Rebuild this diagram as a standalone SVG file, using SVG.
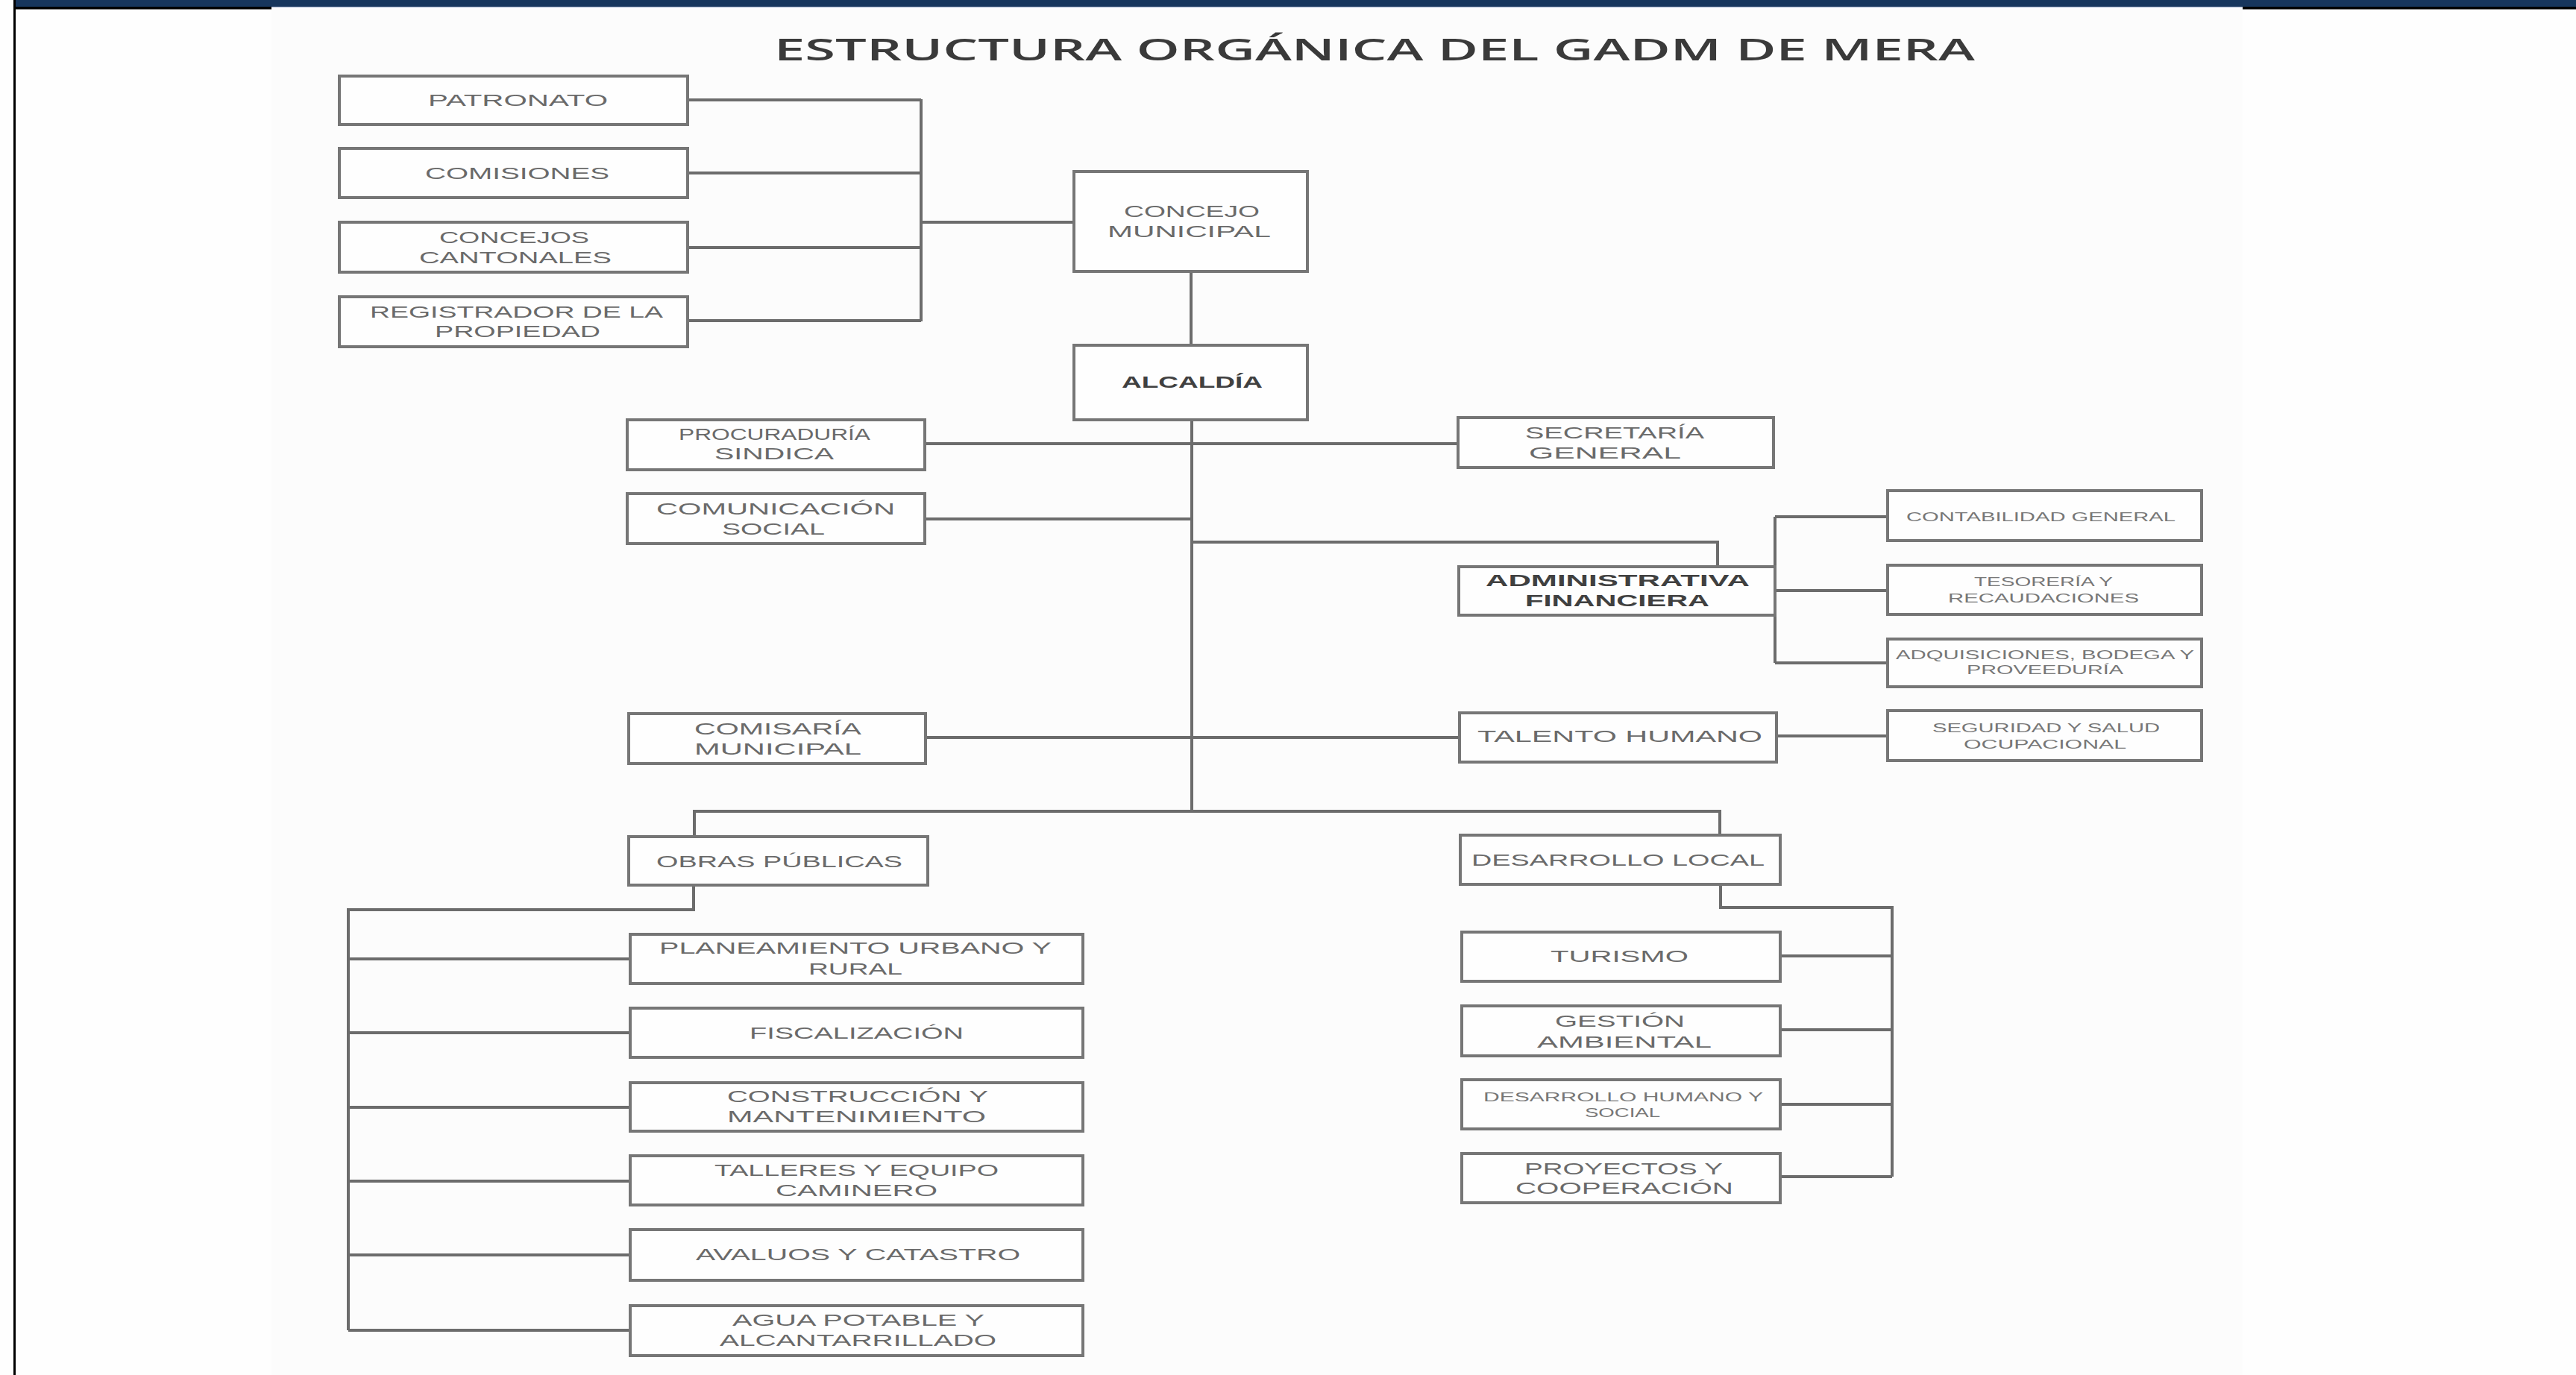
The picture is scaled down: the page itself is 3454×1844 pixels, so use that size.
<svg xmlns="http://www.w3.org/2000/svg" width="3454" height="1844" viewBox="0 0 3454 1844">
<style>
.box{fill:#fefefe;stroke:#767676;stroke-width:4}
.ln{fill:none;stroke:#6c6c6c;stroke-width:4}
.t{font-family:"Liberation Sans",Arial,sans-serif;font-size:22px;fill:#6a6a6a}
.s{font-size:16px;fill:#777}
.b{font-weight:bold;fill:#404040}
.title{font-family:"Open Sans","Liberation Sans",sans-serif;font-size:40px;font-weight:600;fill:#3a3a3a}
</style>
<rect x="0" y="0" width="3454" height="1844" fill="#fefefe"/>
<rect x="364" y="12" width="2643" height="1832" fill="#fcfcfc"/>
<rect x="21" y="0" width="3433" height="9" fill="#17365d"/>
<rect x="18" y="9" width="346" height="3.5" fill="#000"/>
<rect x="3007" y="9" width="447" height="3.5" fill="#000"/>
<rect x="364" y="9" width="2643" height="1.5" fill="#c5cde0"/>
<rect x="18" y="0" width="3" height="1844" fill="#000"/>

<text class="title" x="1038" y="81" textLength="1610" lengthAdjust="spacingAndGlyphs">ESTRUCTURA ORGÁNICA DEL GADM DE  MERA</text>

<g id="connectors">
<path class="ln" d="M922 134H1235M922 232H1235M922 332H1235M922 430H1235M1235 133V431M1235 298H1440"/>
<path class="ln" d="M1597 364V463"/>
<path class="ln" d="M1598 563V1088"/>
<path class="ln" d="M1240 595H1955"/>
<path class="ln" d="M1240 696H1598"/>
<path class="ln" d="M1598 727H2303V760"/>
<path class="ln" d="M2380 693V889M2380 693H2531M2380 792H2531M2380 889H2531"/>
<path class="ln" d="M2382 987H2531"/>
<path class="ln" d="M1241 989H1957"/>
<path class="ln" d="M931 1122V1088H2306V1120"/>
<path class="ln" d="M930 1187V1220H467V1784M467 1286H845M467 1385H845M467 1485H845M467 1584H845M467 1683H845M467 1784H845"/>
<path class="ln" d="M2307 1186V1217H2537V1578M2387 1282H2537M2387 1381H2537M2387 1481H2537M2387 1578H2537"/>
</g>

<g id="patronato"><rect class="box" x="455" y="102" width="467" height="65"/><text class="t" x="574" y="142" textLength="241" lengthAdjust="spacingAndGlyphs">PATRONATO</text></g>
<g id="comisiones"><rect class="box" x="455" y="199" width="467" height="66"/><text class="t" x="570" y="240" textLength="247" lengthAdjust="spacingAndGlyphs">COMISIONES</text></g>
<g id="concejos"><rect class="box" x="455" y="298" width="467" height="67"/><text class="t" x="589" y="326" textLength="201" lengthAdjust="spacingAndGlyphs">CONCEJOS</text><text class="t" x="562" y="353" textLength="258" lengthAdjust="spacingAndGlyphs">CANTONALES</text></g>
<g id="registrador"><rect class="box" x="455" y="398" width="467" height="67"/><text class="t" x="496" y="426" textLength="393" lengthAdjust="spacingAndGlyphs">REGISTRADOR DE LA</text><text class="t" x="583" y="452" textLength="222" lengthAdjust="spacingAndGlyphs">PROPIEDAD</text></g>
<g id="concejo-municipal"><rect class="box" x="1440" y="230" width="313" height="134"/><text class="t" x="1507" y="291" textLength="182" lengthAdjust="spacingAndGlyphs">CONCEJO</text><text class="t" x="1485" y="318" textLength="219" lengthAdjust="spacingAndGlyphs">MUNICIPAL</text></g>
<g id="alcaldia"><rect class="box" x="1440" y="463" width="313" height="100"/><text class="t b" x="1504" y="520" textLength="189" lengthAdjust="spacingAndGlyphs">ALCALDÍA</text></g>
<g id="procuraduria"><rect class="box" x="841" y="563" width="399" height="67"/><text class="t" x="910" y="590" textLength="257" lengthAdjust="spacingAndGlyphs">PROCURADURÍA</text><text class="t" x="958" y="616" textLength="160" lengthAdjust="spacingAndGlyphs">SINDICA</text></g>
<g id="secretaria"><rect class="box" x="1955" y="560" width="423" height="67"/><text class="t" x="2045" y="588" textLength="240" lengthAdjust="spacingAndGlyphs">SECRETARÍA</text><text class="t" x="2050" y="615" textLength="204" lengthAdjust="spacingAndGlyphs">GENERAL</text></g>
<g id="comunicacion"><rect class="box" x="841" y="662" width="399" height="67"/><text class="t" x="880" y="690" textLength="320" lengthAdjust="spacingAndGlyphs">COMUNICACIÓN</text><text class="t" x="968" y="717" textLength="138" lengthAdjust="spacingAndGlyphs">SOCIAL</text></g>
<g id="administrativa"><rect class="box" x="1956" y="760" width="424" height="65"/><text class="t b" x="1992" y="786" textLength="354" lengthAdjust="spacingAndGlyphs">ADMINISTRATIVA</text><text class="t b" x="2045" y="813" textLength="247" lengthAdjust="spacingAndGlyphs">FINANCIERA</text></g>
<g id="contabilidad"><rect class="box" x="2531" y="658" width="421" height="67"/><text class="t s" x="2556" y="699" textLength="361" lengthAdjust="spacingAndGlyphs">CONTABILIDAD GENERAL</text></g>
<g id="tesoreria"><rect class="box" x="2531" y="758" width="421" height="66"/><text class="t s" x="2647" y="786" textLength="186" lengthAdjust="spacingAndGlyphs">TESORERÍA Y</text><text class="t s" x="2612" y="808" textLength="256" lengthAdjust="spacingAndGlyphs">RECAUDACIONES</text></g>
<g id="adquisiciones"><rect class="box" x="2531" y="857" width="421" height="64"/><text class="t s" x="2542" y="884" textLength="400" lengthAdjust="spacingAndGlyphs">ADQUISICIONES, BODEGA Y</text><text class="t s" x="2637" y="904" textLength="210" lengthAdjust="spacingAndGlyphs">PROVEEDURÍA</text></g>
<g id="seguridad"><rect class="box" x="2531" y="953" width="421" height="67"/><text class="t s" x="2591" y="982" textLength="305" lengthAdjust="spacingAndGlyphs">SEGURIDAD Y SALUD</text><text class="t s" x="2633" y="1004" textLength="218" lengthAdjust="spacingAndGlyphs">OCUPACIONAL</text></g>
<g id="talento"><rect class="box" x="1957" y="956" width="425" height="66"/><text class="t" x="1981" y="995" textLength="382" lengthAdjust="spacingAndGlyphs">TALENTO HUMANO</text></g>
<g id="comisaria"><rect class="box" x="843" y="957" width="398" height="67"/><text class="t" x="931" y="985" textLength="224" lengthAdjust="spacingAndGlyphs">COMISARÍA</text><text class="t" x="931" y="1012" textLength="224" lengthAdjust="spacingAndGlyphs">MUNICIPAL</text></g>
<g id="obras"><rect class="box" x="843" y="1122" width="401" height="65"/><text class="t" x="880" y="1163" textLength="330" lengthAdjust="spacingAndGlyphs">OBRAS PÚBLICAS</text></g>
<g id="desarrollo-local"><rect class="box" x="1958" y="1120" width="429" height="66"/><text class="t" x="1973" y="1161" textLength="393" lengthAdjust="spacingAndGlyphs">DESARROLLO LOCAL</text></g>
<g id="planeamiento"><rect class="box" x="845" y="1253" width="607" height="66"/><text class="t" x="884" y="1279" textLength="526" lengthAdjust="spacingAndGlyphs">PLANEAMIENTO URBANO Y</text><text class="t" x="1084" y="1307" textLength="126" lengthAdjust="spacingAndGlyphs">RURAL</text></g>
<g id="fiscalizacion"><rect class="box" x="845" y="1352" width="607" height="66"/><text class="t" x="1005" y="1393" textLength="287" lengthAdjust="spacingAndGlyphs">FISCALIZACIÓN</text></g>
<g id="construccion"><rect class="box" x="845" y="1452" width="607" height="65"/><text class="t" x="975" y="1478" textLength="350" lengthAdjust="spacingAndGlyphs">CONSTRUCCIÓN Y</text><text class="t" x="975" y="1505" textLength="347" lengthAdjust="spacingAndGlyphs">MANTENIMIENTO</text></g>
<g id="talleres"><rect class="box" x="845" y="1550" width="607" height="66"/><text class="t" x="958" y="1577" textLength="381" lengthAdjust="spacingAndGlyphs">TALLERES Y EQUIPO</text><text class="t" x="1040" y="1604" textLength="217" lengthAdjust="spacingAndGlyphs">CAMINERO</text></g>
<g id="avaluos"><rect class="box" x="845" y="1649" width="607" height="68"/><text class="t" x="933" y="1690" textLength="435" lengthAdjust="spacingAndGlyphs">AVALUOS Y CATASTRO</text></g>
<g id="agua"><rect class="box" x="845" y="1751" width="607" height="67"/><text class="t" x="982" y="1778" textLength="338" lengthAdjust="spacingAndGlyphs">AGUA POTABLE Y</text><text class="t" x="965" y="1805" textLength="371" lengthAdjust="spacingAndGlyphs">ALCANTARRILLADO</text></g>
<g id="turismo"><rect class="box" x="1960" y="1250" width="427" height="66"/><text class="t" x="2079" y="1290" textLength="185" lengthAdjust="spacingAndGlyphs">TURISMO</text></g>
<g id="gestion"><rect class="box" x="1960" y="1349" width="427" height="67"/><text class="t" x="2085" y="1377" textLength="174" lengthAdjust="spacingAndGlyphs">GESTIÓN</text><text class="t" x="2061" y="1405" textLength="234" lengthAdjust="spacingAndGlyphs">AMBIENTAL</text></g>
<g id="desarrollo-humano"><rect class="box" x="1960" y="1448" width="427" height="66"/><text class="t s" x="1989" y="1477" textLength="375" lengthAdjust="spacingAndGlyphs">DESARROLLO HUMANO Y</text><text class="t s" x="2125" y="1498" textLength="101" lengthAdjust="spacingAndGlyphs">SOCIAL</text></g>
<g id="proyectos"><rect class="box" x="1960" y="1547" width="427" height="66"/><text class="t" x="2044" y="1575" textLength="266" lengthAdjust="spacingAndGlyphs">PROYECTOS Y</text><text class="t" x="2032" y="1601" textLength="292" lengthAdjust="spacingAndGlyphs">COOPERACIÓN</text></g>
</svg>
